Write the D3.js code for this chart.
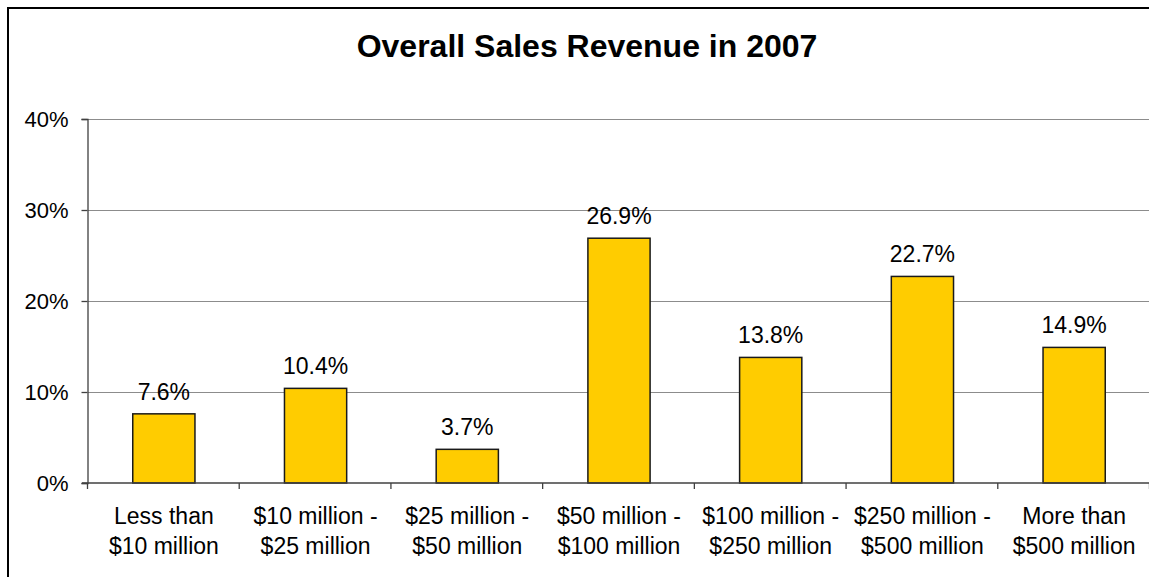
<!DOCTYPE html>
<html>
<head>
<meta charset="utf-8">
<script src="https://cdn.jsdelivr.net/npm/d3@7"></script>
<style>
  html, body { margin: 0; padding: 0; background: #fff; overflow: hidden; }
  svg { display: block; font-family: "Liberation Sans", Arial, sans-serif; }
</style>
</head>
<body>
<svg id="chart" width="1149" height="577"></svg>
<script>
// Revenue brackets (two-line labels) and share of respondents, in percent
const categories = [
  ["Less than", "$10 million"],
  ["$10 million -", "$25 million"],
  ["$25 million -", "$50 million"],
  ["$50 million -", "$100 million"],
  ["$100 million -", "$250 million"],
  ["$250 million -", "$500 million"],
  ["More than", "$500 million"]
];
const values = [7.6, 10.4, 3.7, 26.9, 13.8, 22.7, 14.9];
const yTicks = [0, 10, 20, 30, 40];
const title = "Overall Sales Revenue in 2007";

const svg = d3.select("#chart");

// Outer chart frame (extends past the right and bottom edges of the view)
svg.append("rect")
  .attr("x", 8).attr("y", 8)
  .attr("width", 1200).attr("height", 640)
  .attr("fill", "#fff")
  .attr("stroke", "#000")
  .attr("stroke-width", 2);

const plot = { left: 88, right: 1150, top: 119, bottom: 483 };

const x = d3.scaleBand()
  .domain(d3.range(categories.length))
  .range([plot.left, plot.right])
  .paddingInner(0.59)
  .paddingOuter(0.295);

const xOuter = d3.scaleBand()
  .domain(d3.range(categories.length))
  .range([plot.left, plot.right]);

const y = d3.scaleLinear().domain([0, 40]).range([plot.bottom, plot.top]);

// Title
svg.append("text")
  .attr("x", 587).attr("y", 57)
  .attr("text-anchor", "middle")
  .attr("font-size", 32)
  .attr("font-weight", "bold")
  .attr("fill", "#000")
  .text(title);

// Horizontal gridlines
svg.append("g")
  .selectAll("line")
  .data(yTicks.filter(d => d > 0))
  .join("line")
  .attr("x1", plot.left).attr("x2", plot.right)
  .attr("y1", d => Math.round(y(d)) + 0.5)
  .attr("y2", d => Math.round(y(d)) + 0.5)
  .attr("stroke", "#8c8c8c")
  .attr("stroke-width", 1.2);

// Y axis
const yAxis = svg.append("g")
  .attr("transform", `translate(${plot.left - 0.5},0)`)
  .call(d3.axisLeft(y).tickValues(yTicks).tickFormat(d => d + "%").tickSize(6).tickPadding(13));
yAxis.select(".domain").attr("stroke", "#404040").attr("stroke-width", 1.3);
yAxis.selectAll(".tick line").attr("stroke", "#404040").attr("stroke-width", 1.3);
yAxis.selectAll(".tick text")
  .attr("font-size", 22)
  .attr("fill", "#000")
  .attr("font-family", "Liberation Sans, Arial, sans-serif");

// Bars
svg.append("g")
  .selectAll("rect")
  .data(values)
  .join("rect")
  .attr("x", (d, i) => x(i))
  .attr("y", d => y(d))
  .attr("width", x.bandwidth())
  .attr("height", d => y(0) - y(d))
  .attr("fill", "#FFCC00")
  .attr("stroke", "#1a1a1a")
  .attr("stroke-width", 1.5);

// Value labels
svg.append("g")
  .selectAll("text")
  .data(values)
  .join("text")
  .attr("x", (d, i) => x(i) + x.bandwidth() / 2)
  .attr("y", d => y(d) - 14)
  .attr("text-anchor", "middle")
  .attr("font-size", 23)
  .attr("fill", "#000")
  .text(d => d.toFixed(1) + "%");

// X axis baseline with category boundary ticks
const xAxis = svg.append("g");
xAxis.append("line")
  .attr("x1", plot.left - 6).attr("x2", plot.right)
  .attr("y1", y(0)).attr("y2", y(0))
  .attr("stroke", "#404040").attr("stroke-width", 1.5);
xAxis.selectAll("line.tick")
  .data(d3.range(categories.length + 1))
  .join("line")
  .attr("class", "tick")
  .attr("x1", i => (i < categories.length ? xOuter(i) : plot.right) - 0.5)
  .attr("x2", i => (i < categories.length ? xOuter(i) : plot.right) - 0.5)
  .attr("y1", y(0)).attr("y2", y(0) + 6)
  .attr("stroke", "#404040").attr("stroke-width", 1.3);

// Category labels (two lines)
const catLabels = svg.append("g")
  .selectAll("text")
  .data(categories)
  .join("text")
  .attr("text-anchor", "middle")
  .attr("font-size", 23)
  .attr("fill", "#000")
  .attr("transform", (d, i) => `translate(${xOuter(i) + xOuter.bandwidth() / 2},0)`);
catLabels.selectAll("tspan")
  .data(d => d)
  .join("tspan")
  .attr("x", 0)
  .attr("y", (d, j) => 524 + j * 30)
  .text(d => d);
</script>
</body>
</html>
